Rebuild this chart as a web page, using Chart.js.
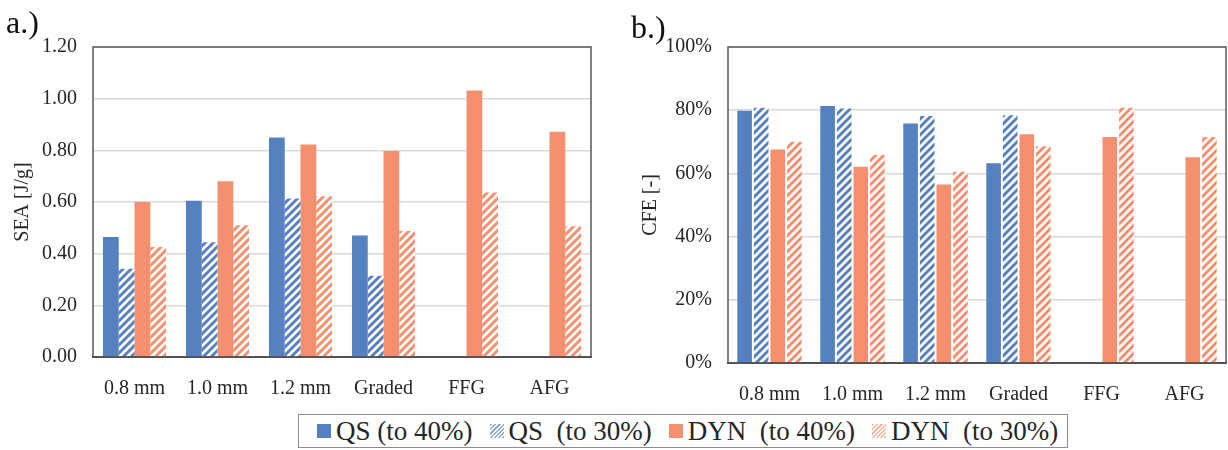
<!DOCTYPE html>
<html>
<head>
<meta charset="utf-8">
<script src="https://cdn.jsdelivr.net/npm/chart.js@4/dist/chart.umd.min.js"></script>
<style>
  body { margin: 0; width: 1228px; height: 450px; background: #fff; position: relative; overflow: hidden;
         font-family: "Liberation Serif", serif; color: #262626; }
  .box { position: absolute; top: 0; height: 400px; }
  #boxA { left: 0; width: 610px; }
  #boxB { left: 615px; width: 613px; }
  .tag { position: absolute; font-family: "Liberation Serif", serif; font-size: 32px; color: #111; line-height: 1; }
  #legend { position: absolute; left: 298px; top: 414px; width: 770px; height: 34px;
            border: 1.5px solid #8c8c8c; display: flex; align-items: center;
            font-family: "Liberation Serif", serif; font-size: 27px; line-height: 1;
            white-space: pre; padding-left: 18px; box-sizing: border-box; }
  .sw { display: inline-block; width: 14px; height: 14px; margin-right: 5px; }
  .item { display: flex; align-items: center; margin-right: 17px; }
</style>
</head>
<body>
<div class="box" id="boxA"><canvas id="chartA"></canvas></div>
<div class="box" id="boxB"><canvas id="chartB"></canvas></div>
<div class="tag" style="left:6px;top:6px">a.)</div>
<div class="tag" style="left:631px;top:11px">b.)</div>
<div id="legend"></div>

<script>
// categories and series
var categories = ['0.8 mm', '1.0 mm', '1.2 mm', 'Graded', 'FFG', 'AFG'];
var seriesNames = ['QS (to 40%)', 'QS  (to 30%)', 'DYN  (to 40%)', 'DYN  (to 30%)'];

// a.) specific energy absorption [J/g]
var seaQS40  = [0.465, 0.605, 0.850, 0.470, null, null];
var seaQS30  = [0.342, 0.444, 0.614, 0.315, null, null];
var seaDYN40 = [0.600, 0.680, 0.823, 0.797, 1.032, 0.872];
var seaDYN30 = [0.426, 0.510, 0.622, 0.488, 0.637, 0.506];
var seaTicks = [0, 0.2, 0.4, 0.6, 0.8, 1.0, 1.2];

// b.) crush force efficiency [%]
var cfeQS40  = [79.8, 81.3, 75.8, 63.2, null, null];
var cfeQS30  = [80.8, 80.5, 78.2, 78.4, null, null];
var cfeDYN40 = [67.6, 62.1, 56.5, 72.4, 71.5, 65.1];
var cfeDYN30 = [70.0, 65.8, 60.5, 68.6, 80.8, 71.5];
var cfeTicks = [0, 20, 40, 60, 80, 100];

var blue = '#5681c1';
var orange = '#f4906f';
var fontFam = '"Liberation Serif", serif';

// diagonal stripes for the "to 30%" bars
function hatch(color) {
  var s = 8;
  var cv = document.createElement('canvas');
  cv.width = s; cv.height = s;
  var g = cv.getContext('2d');
  g.fillStyle = '#fff';
  g.fillRect(0, 0, s, s);
  g.strokeStyle = color;
  g.lineWidth = 3;
  g.beginPath();
  g.moveTo(-2, s + 2); g.lineTo(s + 2, -2);
  g.moveTo(-2, 2); g.lineTo(2, -2);
  g.moveTo(s - 2, s + 2); g.lineTo(s + 2, s - 2);
  g.stroke();
  return g.createPattern(cv, 'repeat');
}

// dark border round the plot area
var framePlugin = {
  id: 'frame',
  afterDraw: function(chart) {
    var a = chart.chartArea, c = chart.ctx;
    c.save();
    c.strokeStyle = '#595959';
    c.lineWidth = 1.5;
    c.strokeRect(a.left, a.top, a.right - a.left, a.bottom - a.top);
    c.restore();
  }
};

function makeChart(id, sets, opts) {
  var fills = [blue, hatch(blue), orange, hatch(orange)];
  var datasets = sets.map(function(d, i) {
    return {
      label: seriesNames[i],
      data: d,
      backgroundColor: fills[i],
      borderWidth: 0,
      barPercentage: opts.barPct,
      categoryPercentage: opts.catPct
    };
  });

  return new Chart(document.getElementById(id), {
    type: 'bar',
    data: { labels: categories, datasets: datasets },
    plugins: [framePlugin],
    options: {
      responsive: true,
      maintainAspectRatio: false,
      animation: false,
      layout: { padding: opts.padding },
      plugins: { legend: { display: false }, tooltip: { enabled: false } },
      scales: {
        x: {
          grid: { display: false },
          border: { color: '#404040', width: 2 },
          ticks: { color: '#262626', font: { family: fontFam, size: 20 }, padding: 12 },
          afterFit: function(scale) { scale.height = opts.xHeight; }
        },
        y: {
          min: 0,
          max: opts.max,
          grid: { color: '#d9d9d9', lineWidth: 1.5, drawTicks: false },
          border: { display: false },
          ticks: {
            color: '#262626',
            font: { family: fontFam, size: 20 },
            padding: 16,
            callback: opts.fmt
          },
          afterBuildTicks: function(scale) {
            scale.ticks = opts.ticks.map(function(v) { return { value: v }; });
          },
          title: {
            display: true,
            text: opts.title,
            color: '#262626',
            font: { family: fontFam, size: 20 },
            padding: { top: opts.titlePad, bottom: 0 }
          },
          afterFit: function(scale) { scale.width = opts.yWidth; }
        }
      }
    }
  });
}

makeChart('chartA', [seaQS40, seaQS30, seaDYN40, seaDYN30], {
  max: 1.2, ticks: seaTicks, title: 'SEA [J/g]',
  fmt: function(v) { return v.toFixed(2); },
  padding: { left: 0, right: 19, top: 47, bottom: 0 },
  yWidth: 93, xHeight: 43, barPct: 1.0, catPct: 0.76, titlePad: 11
});

makeChart('chartB', [cfeQS40, cfeQS30, cfeDYN40, cfeDYN30], {
  max: 100, ticks: cfeTicks, title: 'CFE [-]',
  fmt: function(v) { return v + '%'; },
  padding: { left: 20, right: 2, top: 47, bottom: 0 },
  yWidth: 93, xHeight: 37, barPct: 0.88, catPct: 0.8, titlePad: 4
});

// shared legend below both charts
var swatches = [
  blue,
  'repeating-linear-gradient(-45deg, #8eaee0 0 1.5px, #fff 1.5px 3px)',
  orange,
  'repeating-linear-gradient(-45deg, #f7b89f 0 1.5px, #fff 1.5px 3px)'
];
var legend = document.getElementById('legend');
seriesNames.forEach(function(name, i) {
  var item = document.createElement('span');
  item.className = 'item';
  var sw = document.createElement('span');
  sw.className = 'sw';
  sw.style.background = swatches[i];
  item.appendChild(sw);
  item.appendChild(document.createTextNode(name));
  legend.appendChild(item);
});
</script>
</body>
</html>
